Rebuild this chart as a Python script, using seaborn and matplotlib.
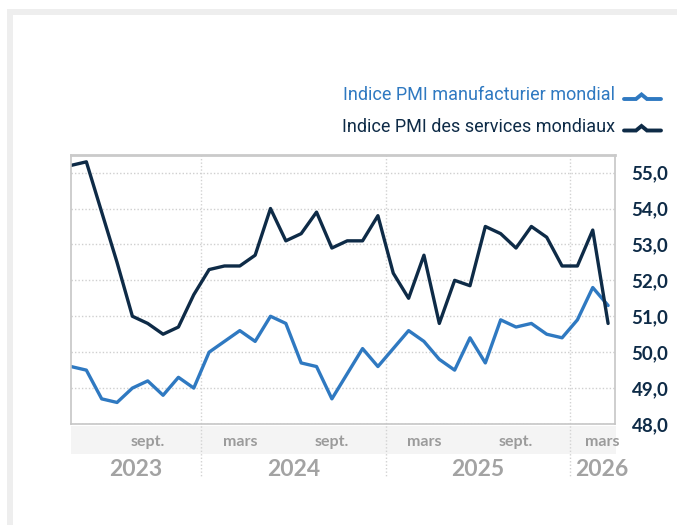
import matplotlib
matplotlib.use("Agg")
import matplotlib.pyplot as plt
import seaborn as sns
import pandas as pd
import numpy as np
from matplotlib.patches import Rectangle
from matplotlib.lines import Line2D

# ---- data (monthly, April 2023 -> March 2026) ----
months = ["avr. 2023", "mai 2023", "juin 2023", "juil. 2023", "août 2023", "sept. 2023",
          "oct. 2023", "nov. 2023", "déc. 2023",
          "janv. 2024", "févr. 2024", "mars 2024", "avr. 2024", "mai 2024", "juin 2024",
          "juil. 2024", "août 2024", "sept. 2024", "oct. 2024", "nov. 2024", "déc. 2024",
          "janv. 2025", "févr. 2025", "mars 2025", "avr. 2025", "mai 2025", "juin 2025",
          "juil. 2025", "août 2025", "sept. 2025", "oct. 2025", "nov. 2025", "déc. 2025",
          "janv. 2026", "févr. 2026", "mars 2026"]
manufacturier = [49.6, 49.5, 48.7, 48.6, 49.0, 49.2, 48.8, 49.3, 49.0,
                 50.0, 50.3, 50.6, 50.3, 51.0, 50.8, 49.7, 49.6, 48.7, 49.4, 50.1, 49.6,
                 50.1, 50.6, 50.3, 49.8, 49.5, 50.4, 49.7, 50.9, 50.7, 50.8, 50.5, 50.4,
                 50.9, 51.8, 51.3]
services = [55.2, 55.3, 53.9, 52.5, 51.0, 50.8, 50.5, 50.7, 51.6,
            52.3, 52.4, 52.4, 52.7, 54.0, 53.1, 53.3, 53.9, 52.9, 53.1, 53.1, 53.8,
            52.2, 51.5, 52.7, 50.8, 52.0, 51.85, 53.5, 53.3, 52.9, 53.5, 53.2, 52.4,
            52.4, 53.4, 50.8]
series_names = ["Indice PMI manufacturier mondial", "Indice PMI des services mondiaux"]
month_labels = ["sept.", "mars", "sept.", "mars", "sept.", "mars"]
month_positions = [5, 11, 17, 23, 29, 34.6]
year_labels = ["2023", "2024", "2025", "2026"]
year_centers = [4.25, 14.5, 26.5, 34.6]
year_bounds = [8.5, 20.5, 32.5]
y_ticks = [48, 49, 50, 51, 52, 53, 54, 55]

C_MAN = "#2f79c1"
C_SRV = "#0e2b47"

df = pd.DataFrame({
    "idx": list(range(len(months))) * 2,
    "val": manufacturier + services,
    "serie": [series_names[0]] * len(months) + [series_names[1]] * len(months),
})

sns.set_theme(style="white")
plt.rcParams["font.family"] = ["Roboto", "DejaVu Sans"]

fig = plt.figure(figsize=(6.77, 5.25), dpi=100)
ax = fig.add_axes([71 / 677, 101 / 525, 544 / 677, 269 / 525])

sns.lineplot(data=df, x="idx", y="val", hue="serie", palette=[C_MAN, C_SRV],
             linewidth=2.4, ax=ax, legend=False)

ax.set_xlim(0, 35.45)
ax.set_ylim(48, 55.49)
ax.set_xlabel("")
ax.set_ylabel("")

# horizontal dotted grid
for v in y_ticks:
    ax.axhline(v, color="#cfcfcf", lw=1.0, ls=(0, (1, 1.5)), zorder=0)

# y axis on the right
ax.yaxis.tick_right()
ax.set_yticks(y_ticks)
ax.set_yticklabels([f"{v:.1f}".replace(".", ",") for v in y_ticks])
for t in ax.get_yticklabels():
    t.set_fontfamily(["Lato", "DejaVu Sans"])
    t.set_fontweight("bold")
    t.set_fontsize(13.5)
    t.set_color("#0e2b47")
ax.tick_params(axis="y", length=0, pad=12)
ax.set_xticks([])

for s in ["left", "right", "bottom"]:
    ax.spines[s].set_color("#c6c6c6")
    ax.spines[s].set_linewidth(1.2)
ax.spines["top"].set_color("#cacaca")
ax.spines["top"].set_linewidth(2.0)

xt = ax.get_xaxis_transform()
# grey band for months
ax.add_patch(Rectangle((0, -0.1115), 1.002, 0.104, transform=ax.transAxes,
                       facecolor="#f4f4f4", edgecolor="none", clip_on=False, zorder=0))
# year separators
for b in year_bounds:
    ax.add_line(Line2D([b, b], [1, -0.193], transform=xt, color="#d2d2d2",
                       lw=1.0, ls=(0, (1, 1.5)), clip_on=False, zorder=0))
for lab, pos in zip(month_labels, month_positions):
    ax.text(pos, -0.0658, lab, transform=xt, ha="center", va="center",
            fontsize=11.5, fontweight="bold", color="#9b9b9b",
            family=["Lato", "DejaVu Sans"])
for lab, pos in zip(year_labels, year_centers):
    ax.text(pos, -0.169, lab, transform=xt, ha="center", va="center",
            fontsize=16.5, fontweight="bold", color="#a3a3a3",
            family=["Lato", "DejaVu Sans"])

# legend (right aligned text + line glyph with small caret)
rows = [(series_names[0], C_MAN, 95), (series_names[1], C_SRV, 126.5)]
for name, col, ypx in rows:
    yf = 1 - ypx / 525
    fig.text(615 / 677, yf, name, ha="right", va="center", fontsize=13, color=col)
    gx = np.array([624, 636, 641.5, 647, 661]) / 677
    gy = yf + np.array([-4, -4, 0.5, -4, -4]) / 525
    fig.add_artist(Line2D(gx, gy, color=col, lw=2.8, solid_joinstyle="miter"))

# card frame (top and left grey bands)
fig.add_artist(Rectangle((7 / 677, 1 - 15 / 525), 1, 6 / 525, transform=fig.transFigure,
                         facecolor="#eeeeee", edgecolor="none"))
fig.add_artist(Rectangle((7 / 677, 0), 6 / 677, 1 - 9 / 525, transform=fig.transFigure,
                         facecolor="#eeeeee", edgecolor="none"))

fig.savefig("out.png", dpi=100, facecolor="white")
